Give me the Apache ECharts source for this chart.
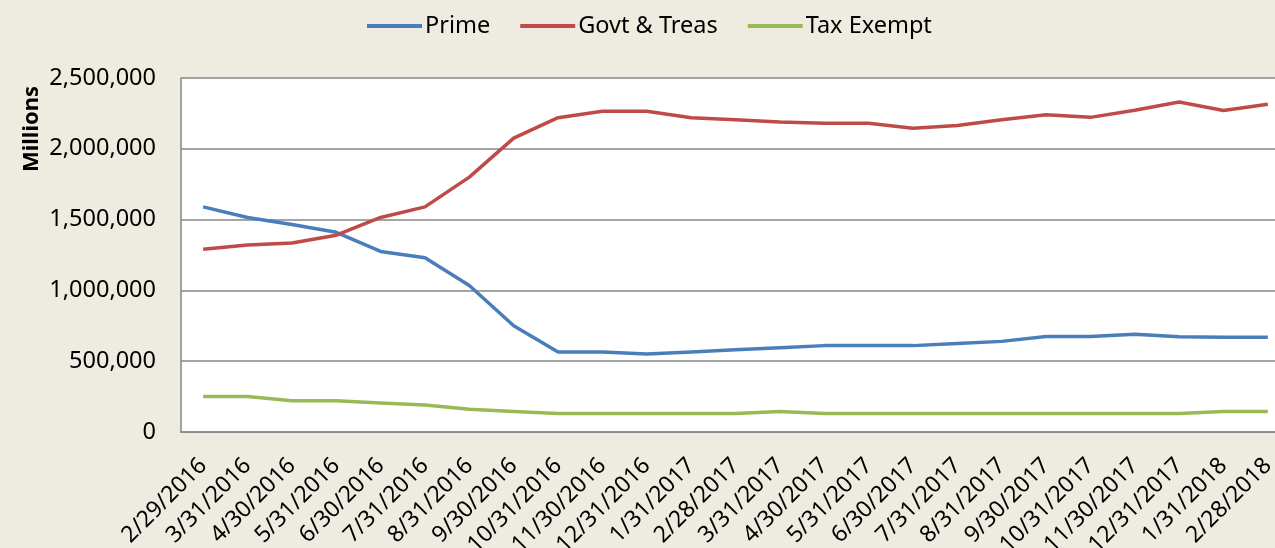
<!DOCTYPE html>
<html><head><meta charset="utf-8">
<script src="https://cdn.jsdelivr.net/npm/echarts@6/dist/echarts.min.js"></script>
<style>html,body{margin:0;padding:0;background:#EEECE1;}#c{width:1275px;height:548px;}</style>
</head><body><div id="c"></div>
<script>
var categories = ["2/29/2016","3/31/2016","4/30/2016","5/31/2016","6/30/2016","7/31/2016","8/31/2016","9/30/2016","10/31/2016","11/30/2016","12/31/2016","1/31/2017","2/28/2017","3/31/2017","4/30/2017","5/31/2017","6/30/2017","7/31/2017","8/31/2017","9/30/2017","10/31/2017","11/30/2017","12/31/2017","1/31/2018","2/28/2018"];
var prime = [1590000,1515000,1465000,1410000,1275000,1230000,1035000,750000,565000,565000,550000,565000,580000,595000,610000,610000,610000,625000,640000,675000,675000,690000,672000,670000,670000];
var govt = [1290000,1320000,1335000,1390000,1515000,1590000,1800000,2075000,2220000,2265000,2265000,2220000,2205000,2190000,2180000,2180000,2145000,2165000,2205000,2240000,2222000,2272000,2330000,2270000,2314000];
var taxExempt = [250000,250000,220000,220000,205000,190000,160000,145000,130000,130000,130000,130000,130000,145000,130000,130000,130000,130000,130000,130000,130000,130000,130000,145000,145000];
var yTicks = [0,500000,1000000,1500000,2000000,2500000];

var font = "'Noto Sans', 'DejaVu Sans', sans-serif";
var chart = echarts.init(document.getElementById('c'));
function mk(name, data, color){
  return {name:name, type:'line', data:data, symbol:'none', smooth:false,
    lineStyle:{color:color, width:3.5}, itemStyle:{color:color}};
}
chart.setOption({
  backgroundColor:'#EEECE1',
  animation:false,
  legend:{top:9, left:362, icon:'rect', itemWidth:55, itemHeight:4, itemGap:30,
    textStyle:{fontFamily:font, fontSize:23.5, color:'#000', padding:[0,0,0,-2]},
    data:['Prime','Govt & Treas','Tax Exempt']},
  grid:{left:181, top:78, width:1109, height:354, show:true, backgroundColor:'#fff', borderWidth:0,
    outerBoundsMode:'none', containLabel:false},
  graphic:[{type:'text', x:32, y:129, rotation:Math.PI/2,
    style:{text:'Millions', fontFamily:font, fontWeight:'bold', fontSize:22, fill:'#000', align:'center', verticalAlign:'middle'}}],
  xAxis:{type:'category', data:categories, boundaryGap:true,
    axisLine:{lineStyle:{color:'#868686', width:1.5}},
    axisTick:{show:false},
    axisLabel:{rotate:45, interval:0, margin:30, fontFamily:font, fontSize:23, color:'#000'}},
  yAxis:{type:'value', min:yTicks[0], max:yTicks[yTicks.length-1], interval:yTicks[1]-yTicks[0],
    axisLine:{show:true, lineStyle:{color:'#868686', width:1.5}},
    axisTick:{show:false},
    splitLine:{lineStyle:{color:'#868686', width:1.5}},
    axisLabel:{margin:25, fontFamily:font, fontSize:23.5, color:'#000',
      formatter:function(v){return v.toLocaleString('en-US');}}},
  series:[mk('Prime', prime, '#4A7EBB'), mk('Govt & Treas', govt, '#BE4B48'), mk('Tax Exempt', taxExempt, '#98B954')]
});
</script></body></html>
